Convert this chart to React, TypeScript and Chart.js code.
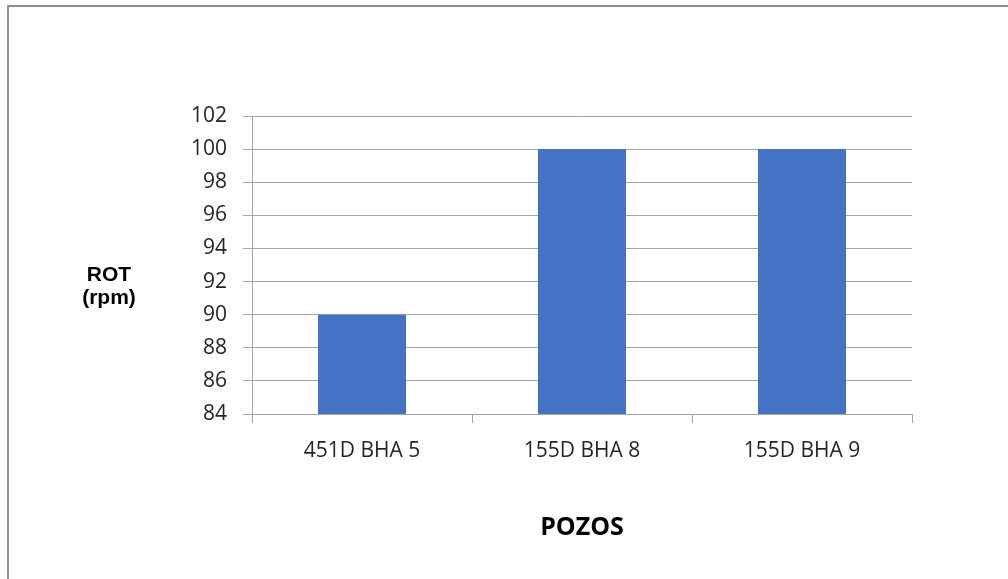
import React, { useEffect, useRef } from "react";
import { Chart, registerables } from "chart.js";

Chart.register(...registerables);

const categories = ["451D BHA 5", "155D BHA 8", "155D BHA 9"];
const rotValues = [90, 100, 100];
const yTitleLines = ["ROT", "(rpm)"];
const xTitle = "POZOS";
const yMin = 84;
const yMax = 102;
const yStep = 2;

const framePlugin = {
  id: "frame",
  beforeDraw(chart: any) {
    const ctx = chart.ctx;
    ctx.save();
    ctx.fillStyle = "#ffffff";
    ctx.fillRect(0, 0, chart.width, chart.height);
    ctx.strokeStyle = "#8f8f8f";
    ctx.lineWidth = 2;
    ctx.beginPath();
    ctx.moveTo(8, chart.height + 2);
    ctx.lineTo(8, 6);
    ctx.lineTo(chart.width + 2, 6);
    ctx.stroke();
    ctx.restore();
  },
  afterDraw(chart: any) {
    const ctx = chart.ctx;
    const area = chart.chartArea;
    ctx.save();
    ctx.fillStyle = "#000000";
    ctx.font = "bold 21px 'Liberation Sans', Arial, sans-serif";
    ctx.textAlign = "center";
    ctx.textBaseline = "middle";
    const cx = area.left - 143;
    const cy = (area.top + area.bottom) / 2;
    ctx.fillText(yTitleLines[0], cx, cy + 10);
    ctx.fillText(yTitleLines[1], cx, cy + 33);
    ctx.restore();
  },
};

export default function App() {
  const ref = useRef<HTMLCanvasElement | null>(null);
  useEffect(() => {
    document.body.style.margin = "0";
    document.body.style.overflow = "hidden";
    const canvas = ref.current!;
    const chart = new Chart(canvas, {
      type: "bar",
      data: {
        labels: categories,
        datasets: [
          {
            label: "ROT",
            data: rotValues,
            backgroundColor: "#4472C4",
            borderWidth: 0,
            barPercentage: 0.4,
            categoryPercentage: 1,
          },
        ],
      },
      options: {
        responsive: false,
        animation: false,
        devicePixelRatio: 1,
        layout: { padding: { left: 0, top: 116, right: 96, bottom: 0 } },
        plugins: { legend: { display: false }, tooltip: { enabled: false } },
        scales: {
          x: {
            grid: {
              display: true,
              drawOnChartArea: false,
              drawTicks: true,
              tickLength: 9,
              color: "#a6a6a6",
              offset: true,
            },
            border: { display: true, color: "#a6a6a6" },
            ticks: {
              color: "#262626",
              padding: 15,
              font: { family: "'Open Sans', sans-serif", size: 21 },
              maxRotation: 0,
            },
            title: {
              display: true,
              text: xTitle,
              color: "#000000",
              font: { family: "'Open Sans', sans-serif", size: 25, weight: "bold" },
              padding: { top: 0, bottom: 36 },
            },
            afterFit: (s: any) => {
              s.height = 165;
            },
          },
          y: {
            min: yMin,
            max: yMax,
            grid: {
              color: "#a6a6a6",
              tickLength: 9,
              drawTicks: true,
            },
            border: { display: true, color: "#a6a6a6" },
            ticks: {
              stepSize: yStep,
              color: "#262626",
              padding: 16,
              font: { family: "'Open Sans', sans-serif", size: 21 },
            },
            afterFit: (s: any) => {
              s.width = 252;
            },
          },
        },
      },
      plugins: [framePlugin],
    });
    return () => chart.destroy();
  }, []);
  return (
    <canvas
      ref={ref}
      width={1008}
      height={579}
      style={{ position: "fixed", left: 0, top: 0, width: 1008, height: 579 }}
    />
  );
}
